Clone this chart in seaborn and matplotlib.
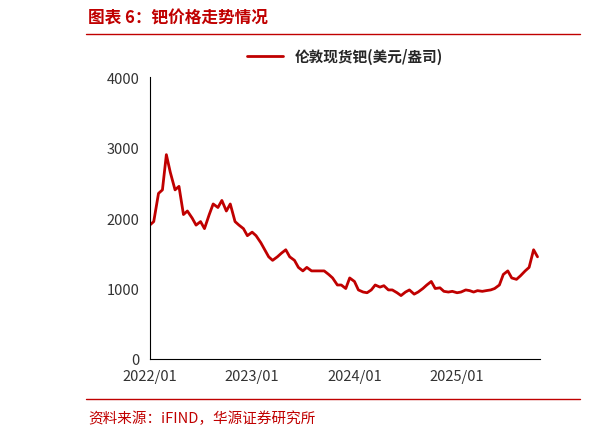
import pandas as pd
import matplotlib.pyplot as plt
import matplotlib.dates as mdates
import seaborn as sns

# 钯价格（美元/盎司），半月度读数
dates = pd.date_range('2022-01-01', periods=92, freq='SMS')
prices = [1900, 1950, 2350, 2400, 2900, 2650, 2400, 2450, 2050, 2100, 2000, 1900,
          1950, 1850, 2050, 2200, 2150, 2250, 2100, 2200, 1950, 1900, 1850, 1750,
          1800, 1750, 1650, 1550, 1450, 1400, 1450, 1500, 1550, 1450, 1400, 1300,
          1250, 1300, 1250, 1250, 1250, 1250, 1200, 1150, 1050, 1050, 1000, 1150,
          1100, 980, 950, 940, 980, 1050, 1020, 1040, 980, 980, 940, 900,
          950, 980, 920, 950, 1000, 1050, 1100, 1000, 1010, 960, 950, 960,
          940, 950, 980, 970, 950, 970, 960, 970, 980, 1000, 1050, 1200,
          1250, 1150, 1130, 1180, 1250, 1300, 1550, 1450]
df = pd.DataFrame({'date': dates, 'price': prices})

sns.set_style('white')
plt.rcParams['font.family'] = ['Noto Sans CJK SC', 'DejaVu Sans']

red = '#C00000'
fig = plt.figure(figsize=(6.14, 4.39), dpi=100)
ax = fig.add_axes([0.244, 0.18, 0.636, 0.642])
sns.lineplot(data=df, x='date', y='price', color=red, lw=2, ax=ax, label='伦敦现货钯(美元/盎司)')

ax.set_ylim(0, 4000)
ax.set_yticks([0, 1000, 2000, 3000, 4000])
ax.set_xlim(pd.Timestamp('2022-01-01'), pd.Timestamp('2025-10-25'))
ax.set_xticks(pd.to_datetime(['2022-01-01', '2023-01-01', '2024-01-01', '2025-01-01']))
ax.xaxis.set_major_formatter(mdates.DateFormatter('%Y/%m'))
ax.set_xlabel('')
ax.set_ylabel('')
for s in ['top', 'right']:
    ax.spines[s].set_visible(False)
for s in ['left', 'bottom']:
    ax.spines[s].set_color('black')
ax.tick_params(axis='both', direction='out', length=4, colors='#333333', labelsize=10.5)
ax.legend(loc='lower center', bbox_to_anchor=(0.5, 1.0), frameon=False,
          prop={'weight': 'bold', 'size': 10.5}, handlelength=2.5)

fig.text(0.143, 0.958, '图表 6：钯价格走势情况', color=red, fontsize=12, weight='bold', va='center')
fig.add_artist(plt.Line2D([0.14, 0.945], [0.92, 0.92], color=red, lw=1))
fig.add_artist(plt.Line2D([0.14, 0.945], [0.088, 0.088], color=red, lw=1))
fig.text(0.143, 0.045, '资料来源：iFIND，华源证券研究所', color=red, fontsize=10.5, va='center')

fig.savefig('out.png', dpi=100)
